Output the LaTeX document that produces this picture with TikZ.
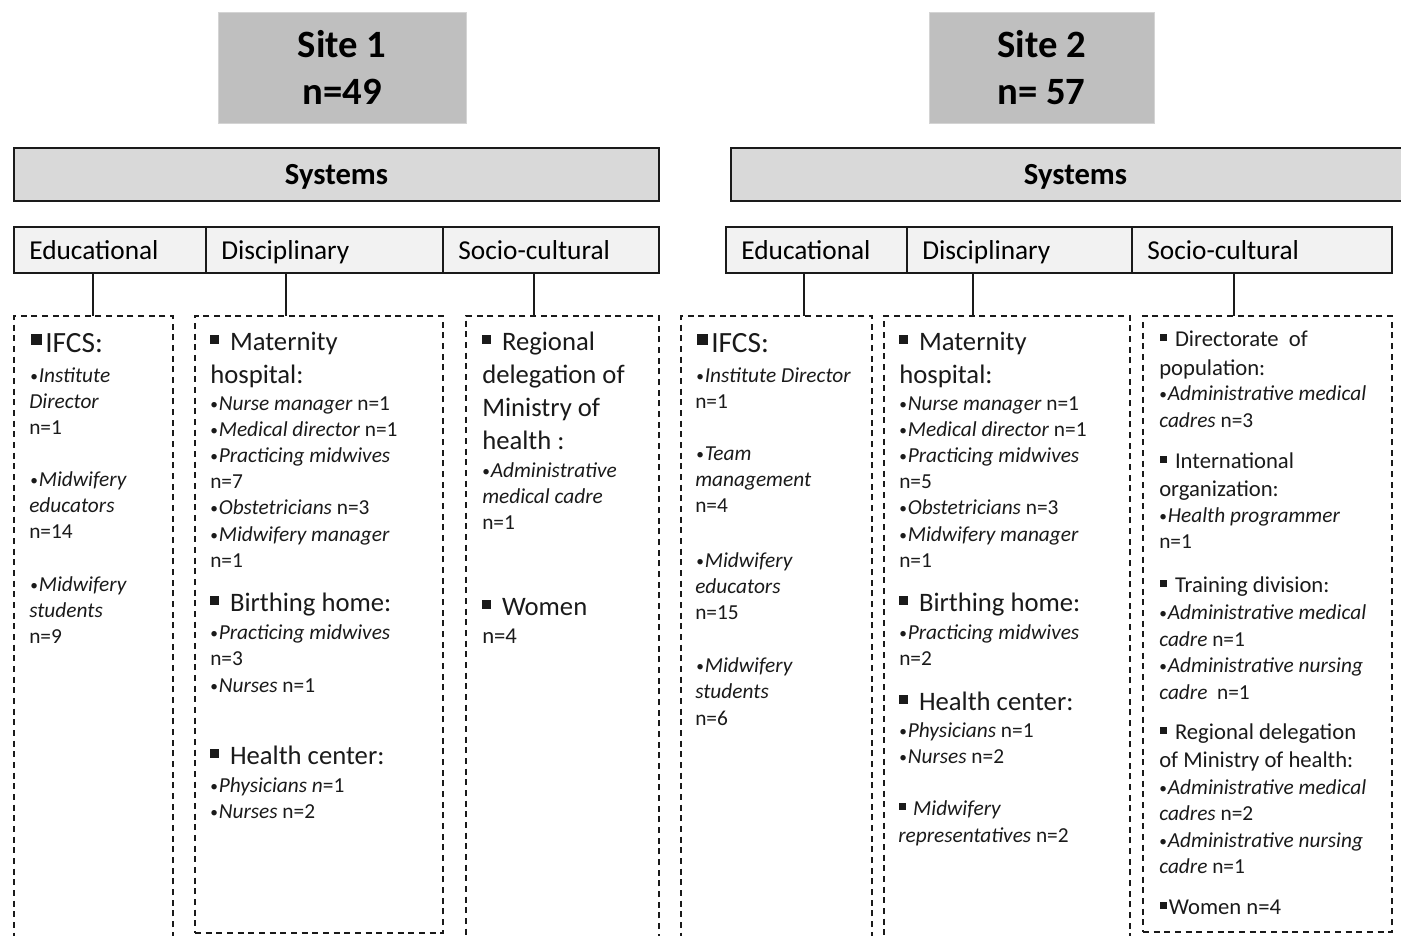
\documentclass[tikz,border=0pt]{standalone}
\usepackage{fontspec}
\usepackage{graphicx}
\setmainfont{Carlito}
\usetikzlibrary{calc}

\definecolor{sitegray}{HTML}{BFBFBF}
\definecolor{siteedge}{HTML}{D4D4D4}
\definecolor{sysgray}{HTML}{D9D9D9}
\definecolor{catgray}{HTML}{F2F2F2}
\definecolor{ink}{HTML}{1A1A1A}

% list markers
\newcommand{\bul}{\makebox[0.4em][l]{\raisebox{0.04em}{\scalebox{0.72}{\textbullet}}}}
\newcommand{\sqb}[1][0.34em]{\rule[0.24em]{#1}{#1}}

\tikzset{
  sitebox/.style={draw=siteedge, line width=0.75pt, fill=sitegray, minimum height=83.25pt,
    align=center, inner sep=0, font=\fontsize{29}{35.25}\selectfont\bfseries},
  sysbox/.style={draw=ink, line width=1.5pt, fill=sysgray, minimum height=39.75pt,
    inner sep=0, text height=17pt, text depth=2.75pt, font=\fontsize{23}{28}\selectfont\bfseries},
  catbox/.style={draw=ink, line width=1.5pt, fill=catgray, minimum height=34.5pt,
    inner xsep=11.5pt, inner ysep=0, text height=15.5pt, text depth=2pt,
    align=left, font=\fontsize{20.5}{24}\selectfont},
  groupbox/.style={draw=ink, line width=1.5pt, dash pattern=on 4.5pt off 3.5pt, inner sep=0},
  link/.style={draw=ink, line width=1.1pt},
  hd/.style={anchor=base west, inner sep=0, text=ink, font=\fontsize{20}{24}\selectfont},
  hs/.style={anchor=base west, inner sep=0, text=ink, font=\fontsize{17}{20}\selectfont},
  ifcs/.style={anchor=base west, inner sep=0, text=ink, font=\fontsize{22}{26}\selectfont},
  itm/.style={anchor=base west, inner sep=0, text=ink, font=\fontsize{16}{19}\selectfont},
}

\begin{document}
\begin{tikzpicture}[x=0.75pt, y=-0.75pt]
\useasboundingbox (0,0) rectangle (1401,935);
\clip (0,0) rectangle (1401,935);
\fill[white] (0,0) rectangle (1401,935);

% ---------- headers ----------
\node[sitebox, minimum width=186pt] (site1) at (342,67.5) {Site 1\\n=49};
\node[sitebox, minimum width=168.75pt] (site2) at (1041.5,67.5) {Site 2\\n= 57};

\node[sysbox, minimum width=483.75pt] (sys1) at (336.5,174.5) {Systems};
\node[sysbox, minimum width=516.75pt] (sys2) at (1075.5,174.5) {Systems};

\node[catbox, text width=121pt]    (c1e) at (110,250)    {Educational};
\node[catbox, text width=154.75pt] (c1d) at (324.5,250)  {Disciplinary};
\node[catbox, text width=139pt]    (c1s) at (551,250)    {Socio-cultural};
\node[catbox, text width=112.75pt] (c2e) at (816.5,250)  {Educational};
\node[catbox, text width=145.75pt] (c2d) at (1019.5,250) {Disciplinary};
\node[catbox, text width=172pt]    (c2s) at (1262,250)   {Socio-cultural};

% ---------- group frames ----------
\node[groupbox, minimum width=119.25pt, minimum height=483pt]    (b1e) at (93.5,638)   {};
\node[groupbox, minimum width=186pt,    minimum height=462.75pt] (b1d) at (319,624.5)  {};
\node[groupbox, minimum width=144.75pt, minimum height=483pt]    (b1s) at (562.5,638)  {};
\node[groupbox, minimum width=143.25pt, minimum height=483pt]    (b2e) at (776.5,638)  {};
\node[groupbox, minimum width=184.5pt,  minimum height=483pt]    (b2d) at (1007,638)   {};
\node[groupbox, minimum width=186.75pt, minimum height=462pt]    (b2s) at (1267.5,624) {};

% ---------- links ----------
\coordinate (t1e) at (93,316);
\coordinate (t1d) at (286,316);
\coordinate (t1s) at (534,316);
\coordinate (t2e) at (804,316);
\coordinate (t2d) at (973,316);
\coordinate (t2s) at (1234,316);
\draw[link] (t1e |- c1e.south) -- (t1e);
\draw[link] (t1d |- c1d.south) -- (t1d);
\draw[link] (t1s |- c1s.south) -- (t1s);
\draw[link] (t2e |- c2e.south) -- (t2e);
\draw[link] (t2d |- c2d.south) -- (t2d);
\draw[link] (t2s |- c2s.south) -- (t2s);

% ---------- site 1: educational ----------
\node[ifcs] (e1h) at (31,352) {\sqb[0.36em]\hspace{0.12em}IFCS:};
\node[itm] (e1a) at (30,382) {\bul\textit{Institute}};
\node[itm] (e1b) at (29,408) {\textit{Director}};
\node[itm] (e1c) at (29,434) {n=1};
\node[itm] (e1d) at (30,486) {\bul\textit{Midwifery}};
\node[itm] (e1e) at (29,512) {\textit{educators}};
\node[itm] (e1f) at (29,538) {n=14};
\node[itm] (e1g) at (30,591) {\bul\textit{Midwifery}};
\node[itm] (e1i) at (29,617) {\textit{students}};
\node[itm] (e1j) at (29,643) {n=9};

% ---------- site 1: disciplinary ----------
\node[hd]  (d1a) at (210,350) {\sqb\hspace{0.4em}Maternity};
\node[hd]  (d1b) at (210,383) {hospital:};
\node[itm] (d1c) at (210,410) {\bul\textit{Nurse manager} n=1};
\node[itm] (d1d) at (210,436) {\bul\textit{Medical director} n=1};
\node[itm] (d1e) at (210,462) {\bul\textit{Practicing midwives}};
\node[itm] (d1f) at (210,488) {n=7};
\node[itm] (d1g) at (210,514) {\bul\textit{Obstetricians} n=3};
\node[itm] (d1h) at (210,541) {\bul\textit{Midwifery manager}};
\node[itm] (d1i) at (210,567) {n=1};
\node[hd]  (d1j) at (210,611) {\sqb\hspace{0.4em}Birthing home:};
\node[itm] (d1k) at (210,639) {\bul\textit{Practicing midwives}};
\node[itm] (d1l) at (210,665) {n=3};
\node[itm] (d1m) at (210,692) {\bul\textit{Nurses} n=1};
\node[hd]  (d1n) at (210,764) {\sqb\hspace{0.4em}Health center:};
\node[itm] (d1o) at (210,792) {\bul\textit{Physicians n}=1};
\node[itm] (d1p) at (210,818) {\bul\textit{Nurses} n=2};

% ---------- site 1: socio-cultural ----------
\node[hd]  (s1a) at (482,350) {\sqb\hspace{0.4em}Regional};
\node[hd]  (s1b) at (482,383) {delegation of};
\node[hd]  (s1c) at (482,416) {Ministry of};
\node[hd]  (s1d) at (482,449) {health :};
\node[itm] (s1e) at (482,477) {\bul\textit{Administrative}};
\node[itm] (s1f) at (482,503) {\textit{medical cadre}};
\node[itm] (s1g) at (482,529) {n=1};
\node[hd]  (s1h) at (482,615) {\sqb\hspace{0.4em}Women};
\node[hs]  (s1i) at (482,643) {n=4};

% ---------- site 2: educational ----------
\node[ifcs] (e2h) at (697,352) {\sqb[0.36em]\hspace{0.12em}IFCS:};
\node[itm] (e2a) at (696,382) {\bul\textit{Institute Director}};
\node[itm] (e2b) at (695,408) {n=1};
\node[itm] (e2c) at (696,460) {\bul\textit{Team}};
\node[itm] (e2d) at (695,486) {\textit{management}};
\node[itm] (e2e) at (695,512) {n=4};
\node[itm] (e2f) at (696,567) {\bul\textit{Midwifery}};
\node[itm] (e2g) at (695,593) {\textit{educators}};
\node[itm] (e2i) at (695,619) {n=15};
\node[itm] (e2j) at (696,672) {\bul\textit{Midwifery}};
\node[itm] (e2k) at (695,698) {\textit{students}};
\node[itm] (e2l) at (695,725) {n=6};

% ---------- site 2: disciplinary ----------
\node[hd]  (d2a) at (899,350) {\sqb\hspace{0.4em}Maternity};
\node[hd]  (d2b) at (899,383) {hospital:};
\node[itm] (d2c) at (899,410) {\bul\textit{Nurse manager} n=1};
\node[itm] (d2d) at (899,436) {\bul\textit{Medical director} n=1};
\node[itm] (d2e) at (899,462) {\bul\textit{Practicing midwives}};
\node[itm] (d2f) at (899,488) {n=5};
\node[itm] (d2g) at (899,514) {\bul\textit{Obstetricians} n=3};
\node[itm] (d2h) at (899,541) {\bul\textit{Midwifery manager}};
\node[itm] (d2i) at (899,567) {n=1};
\node[hd]  (d2j) at (899,611) {\sqb\hspace{0.4em}Birthing home:};
\node[itm] (d2k) at (899,639) {\bul\textit{Practicing midwives}};
\node[itm] (d2l) at (899,665) {n=2};
\node[hd]  (d2m) at (899,710) {\sqb\hspace{0.4em}Health center:};
\node[itm] (d2n) at (899,737) {\bul\textit{Physicians} n=1};
\node[itm] (d2o) at (899,763) {\bul\textit{Nurses} n=2};
\node[itm] (d2p) at (899,815) {\sqb[0.3em]\hspace{0.35em}\textit{Midwifery}};
\node[itm] (d2q) at (898,842) {\textit{representatives} n=2};

% ---------- site 2: socio-cultural ----------
\node[hs]  (s2a) at (1160,346) {\sqb[0.3em]\hspace{0.35em}Directorate\ \ of};
\node[hs]  (s2b) at (1159,375) {population:};
\node[itm] (s2c) at (1159,400) {\bul\textit{Administrative medical}};
\node[itm] (s2d) at (1159,427) {\textit{cadres} n=3};
\node[hs]  (s2e) at (1160,468) {\sqb[0.3em]\hspace{0.35em}International};
\node[hs]  (s2f) at (1159,496) {organization:};
\node[itm] (s2g) at (1159,522) {\bul\textit{Health programmer}};
\node[itm] (s2h) at (1159,548) {n=1};
\node[hs]  (s2i) at (1160,592) {\sqb[0.3em]\hspace{0.35em}Training division:};
\node[itm] (s2j) at (1159,619) {\bul\textit{Administrative medical}};
\node[itm] (s2k) at (1159,646) {\textit{cadre} n=1};
\node[itm] (s2l) at (1159,672) {\bul\textit{Administrative nursing}};
\node[itm] (s2m) at (1159,699) {\textit{cadre}\ \ n=1};
\node[hs]  (s2n) at (1160,739) {\sqb[0.3em]\hspace{0.35em}Regional delegation};
\node[hs]  (s2o) at (1159,767) {of Ministry of health:};
\node[itm] (s2p) at (1159,794) {\bul\textit{Administrative medical}};
\node[itm] (s2q) at (1159,820) {\textit{cadres} n=2};
\node[itm] (s2r) at (1159,847) {\bul\textit{Administrative nursing}};
\node[itm] (s2s) at (1159,873) {\textit{cadre} n=1};
\node[hs]  (s2t) at (1160,914) {\sqb[0.3em]\hspace{0.08em}Women n=4};
\end{tikzpicture}
\end{document}
